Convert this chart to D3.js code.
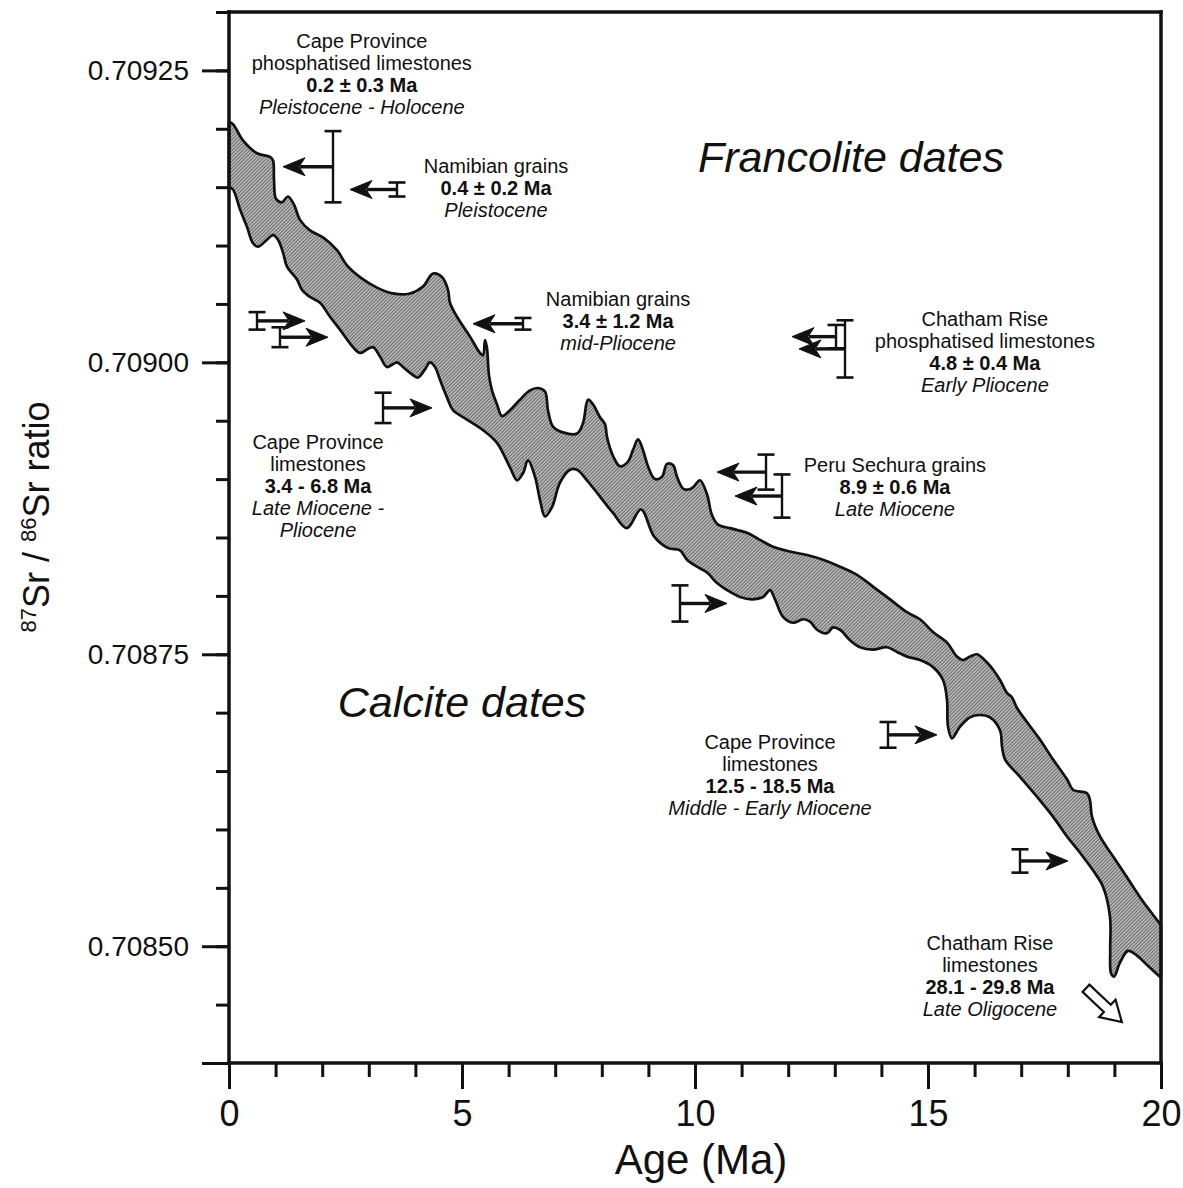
<!DOCTYPE html>
<html><head><meta charset="utf-8">
<script src="https://cdn.jsdelivr.net/npm/d3@7"></script>
<style>
body{margin:0;background:#fff;}
svg text{font-family:"Liberation Sans",Arial,Helvetica,sans-serif;fill:#111;}
</style></head><body>
<svg id="chart" width="1183" height="1188"></svg>
<script>
// ---------------- DATA ----------------
const xTickValues = [0, 5, 10, 15, 20];
const yTickValues = [0.70850, 0.70875, 0.70900, 0.70925];

// Upper (high-ratio) boundary of the seawater Sr curve band
const upperAge = [0.00,0.086,0.300,0.601,0.880,0.944,0.966,1.009,1.137,1.266,1.395,1.524,1.738,2.017,2.318,2.532,2.811,3.176,3.519,3.884,4.163,4.378,4.571,4.700,4.742,4.893,5.172,5.386,5.451,5.494,5.536,5.579,5.644,5.751,5.858,6.030,6.245,6.459,6.631,6.781,6.845,6.953,7.167,7.468,7.597,7.704,7.811,7.961,8.069,8.112,8.240,8.391,8.562,8.670,8.777,8.884,8.991,9.142,9.292,9.399,9.528,9.614,9.742,9.850,9.957,10.107,10.258,10.365,10.494,10.751,11.116,11.395,11.674,12.039,12.403,12.747,13.112,13.476,13.820,14.185,14.549,14.828,15.107,15.408,15.622,15.751,15.901,16.052,16.266,16.395,16.545,16.695,16.803,16.910,17.124,17.403,17.682,17.983,18.112,18.412,18.476,18.519,18.691,18.970,19.270,19.549,19.828,20.000];
const upperRatio = [0.709206,0.709204,0.709190,0.709179,0.709176,0.709173,0.709156,0.709140,0.709137,0.709142,0.709135,0.709122,0.709113,0.709107,0.709096,0.709083,0.709073,0.709064,0.709059,0.709059,0.709065,0.709076,0.709073,0.709062,0.709051,0.709039,0.709022,0.709008,0.709006,0.709019,0.709012,0.708989,0.708976,0.708964,0.708954,0.708959,0.708968,0.708976,0.708978,0.708975,0.708959,0.708945,0.708940,0.708939,0.708948,0.708968,0.708964,0.708953,0.708947,0.708936,0.708920,0.708911,0.708915,0.708925,0.708934,0.708925,0.708911,0.708900,0.708902,0.708913,0.708912,0.708902,0.708892,0.708891,0.708893,0.708899,0.708887,0.708869,0.708861,0.708858,0.708854,0.708848,0.708842,0.708838,0.708835,0.708831,0.708825,0.708818,0.708808,0.708797,0.708786,0.708780,0.708769,0.708760,0.708748,0.708745,0.708748,0.708750,0.708743,0.708737,0.708728,0.708717,0.708713,0.708704,0.708692,0.708677,0.708660,0.708643,0.708634,0.708631,0.708625,0.708611,0.708594,0.708577,0.708559,0.708542,0.708527,0.708518];

// Lower (low-ratio) boundary of the band
const lowerAge = [0.00,0.086,0.236,0.386,0.515,0.622,0.815,0.944,1.052,1.159,1.245,1.459,1.567,1.738,1.953,2.167,2.382,2.661,2.811,2.961,3.090,3.240,3.391,3.605,3.734,3.884,4.056,4.206,4.313,4.421,4.528,4.678,4.807,5.107,5.451,5.751,6.030,6.180,6.309,6.416,6.567,6.674,6.781,6.931,7.103,7.318,7.468,7.682,7.961,8.240,8.541,8.841,9.120,9.421,9.678,9.828,10.043,10.258,10.472,10.687,10.966,11.223,11.459,11.609,11.717,11.888,12.103,12.318,12.468,12.618,12.833,12.961,13.112,13.326,13.541,13.820,14.120,14.335,14.549,14.828,15.107,15.322,15.408,15.429,15.515,15.687,15.901,16.116,16.330,16.545,16.588,16.652,16.974,17.339,17.682,17.983,18.262,18.541,18.755,18.906,18.910,18.927,18.991,19.120,19.292,19.485,19.700,20.000];
const lowerRatio = [0.709150,0.709148,0.709131,0.709116,0.709102,0.709099,0.709105,0.709109,0.709105,0.709094,0.709082,0.709071,0.709062,0.709056,0.709051,0.709039,0.709028,0.709013,0.709008,0.709011,0.709013,0.709005,0.708996,0.709000,0.708996,0.708991,0.708987,0.708994,0.709000,0.708996,0.708985,0.708970,0.708959,0.708951,0.708942,0.708931,0.708910,0.708899,0.708905,0.708916,0.708902,0.708882,0.708868,0.708876,0.708897,0.708908,0.708908,0.708899,0.708885,0.708871,0.708858,0.708874,0.708851,0.708841,0.708839,0.708831,0.708825,0.708820,0.708811,0.708805,0.708799,0.708797,0.708799,0.708805,0.708797,0.708782,0.708777,0.708780,0.708778,0.708771,0.708768,0.708773,0.708771,0.708762,0.708756,0.708754,0.708756,0.708752,0.708748,0.708745,0.708739,0.708728,0.708711,0.708688,0.708678,0.708688,0.708696,0.708698,0.708696,0.708685,0.708671,0.708660,0.708645,0.708628,0.708611,0.708594,0.708580,0.708565,0.708551,0.708525,0.708497,0.708477,0.708474,0.708486,0.708496,0.708492,0.708484,0.708473];

// Francolite dates: error bar (ratio range) at an age, with arrow to the calcite-curve age
const markerAge    = [2.232, 3.605, 6.309, 13.026, 13.219, 0.601, 1.094, 3.305, 11.524, 11.867, 9.678, 14.142, 16.974];
const markerHi     = [0.709198,0.709154,0.709038,0.709032,0.709036,0.709043,0.709030,0.708974,0.708921,0.708904,0.708809,0.708692,0.708583];
const markerLo     = [0.709137,0.709142,0.709028,0.709012,0.708987,0.709028,0.709013,0.708948,0.708891,0.708867,0.708778,0.708670,0.708563];
const markerTipAge = [1.159, 2.597, 5.236, 12.082, 12.232, 1.631, 2.124, 4.356, 10.472, 10.858, 10.687, 15.193, 18.004];

// Off-scale hollow arrow (Chatham Rise limestones, Late Oligocene)
const oligoArrowAge   = [18.39, 19.16];
const oligoArrowRatio = [0.708464, 0.708435];

// Annotation texts (lines) and styles
const labelLines = [
  ["Cape Province","phosphatised limestones","0.2 \u00B1 0.3 Ma","Pleistocene - Holocene"],
  ["Namibian grains","0.4 \u00B1 0.2 Ma","Pleistocene"],
  ["Namibian grains","3.4 \u00B1 1.2 Ma","mid-Pliocene"],
  ["Chatham Rise","phosphatised limestones","4.8 \u00B1 0.4 Ma","Early Pliocene"],
  ["Cape Province","limestones","3.4 - 6.8 Ma","Late Miocene -","Pliocene"],
  ["Peru Sechura grains","8.9 \u00B1 0.6 Ma","Late Miocene"],
  ["Cape Province","limestones","12.5 - 18.5 Ma","Middle - Early Miocene"],
  ["Chatham Rise","limestones","28.1 - 29.8 Ma","Late Oligocene"]
];
const labelStyles = [
  ["n","n","b","i"],["n","b","i"],["n","b","i"],["n","n","b","i"],
  ["n","n","b","i","i"],["n","b","i"],["n","n","b","i"],["n","n","b","i"]
];
const labelAge   = [2.85, 5.73, 8.35, 16.22, 1.91, 14.29, 11.61, 16.33];
const labelRatio = [0.709275, 0.709168, 0.709054, 0.709037, 0.708932, 0.708912, 0.708675, 0.708503];

// ---------------- CHART ----------------
const svg = d3.select('#chart');
const x = d3.scaleLinear().domain([0, 20]).range([229, 1161]);
const y = d3.scaleLinear().domain([0.7084, 0.7093]).range([1063, 12]);

const defs = svg.append('defs');
const pat = defs.append('pattern').attr('id','hatch').attr('patternUnits','userSpaceOnUse')
  .attr('width',2.5).attr('height',2.5).attr('patternTransform','rotate(45)');
pat.append('rect').attr('width',2.5).attr('height',2.5).attr('fill','#bdbdbd');
pat.append('line').attr('x1',0.5).attr('y1',0).attr('x2',0.5).attr('y2',2.5).attr('stroke','#666').attr('stroke-width',1);

// band
const upperPts = upperAge.map((a,i)=>[x(a), y(upperRatio[i])]);
const lowerPts = lowerAge.map((a,i)=>[x(a), y(lowerRatio[i])]).reverse();
const ln = d3.line().curve(d3.curveCatmullRom.alpha(0.5));
const bandD = ln(upperPts) + ln(lowerPts).replace(/^M/, 'L') + 'Z';
svg.append('path').attr('d', bandD).attr('fill','url(#hatch)')
  .attr('stroke','#111').attr('stroke-width',2.7).attr('stroke-linejoin','round');

// axes
function styleAxis(g){ g.select('.domain').remove(); g.selectAll('.tick line').attr('stroke','#111').attr('stroke-width',3); }
const yMinorVals = d3.range(0, 19).map(i => 0.7084 + i*0.00005);
svg.append('g').attr('transform','translate(229,0)')
  .call(d3.axisLeft(y).tickValues(yMinorVals).tickSize(13).tickFormat('')).call(styleAxis);
svg.append('g').attr('transform','translate(229,0)')
  .call(d3.axisLeft(y).tickValues([0.7084]).tickSize(27).tickFormat('')).call(styleAxis);
const gy = svg.append('g').attr('transform','translate(229,0)')
  .call(d3.axisLeft(y).tickValues(yTickValues).tickSize(27).tickPadding(13).tickFormat(d3.format('.5f')));
styleAxis(gy);
gy.selectAll('text').attr('font-size',28).attr('fill','#111').attr('font-family','"Liberation Sans",Arial,sans-serif');

const xMinorVals = d3.range(0, 21);
svg.append('g').attr('transform','translate(0,1063)')
  .call(d3.axisBottom(x).tickValues(xMinorVals).tickSize(14).tickFormat('')).call(styleAxis);
const gx = svg.append('g').attr('transform','translate(0,1063)')
  .call(d3.axisBottom(x).tickValues(xTickValues).tickSize(26).tickPadding(11).tickFormat(d3.format('d')));
styleAxis(gx);
gx.selectAll('text').attr('font-size',36).attr('fill','#111').attr('font-family','"Liberation Sans",Arial,sans-serif');

// frame
const frame = svg.append('g').attr('stroke','#111').attr('stroke-width',3.5).attr('stroke-linecap','square');
frame.append('line').attr('x1',x(0)).attr('x2',x(20)).attr('y1',y(0.7093)).attr('y2',y(0.7093));
frame.append('line').attr('x1',x(0)).attr('x2',x(20)).attr('y1',y(0.7084)).attr('y2',y(0.7084));
frame.append('line').attr('x1',x(0)).attr('x2',x(0)).attr('y1',y(0.7093)).attr('y2',y(0.7084));
frame.append('line').attr('x1',x(20)).attr('x2',x(20)).attr('y1',y(0.7093)).attr('y2',y(0.7084));

// markers
const mk = svg.append('g');
function arrow(g, x0, y0, x1, y1){
  const dx = x1-x0, dy = y1-y0, L = Math.hypot(dx,dy), ux = dx/L, uy = dy/L, nx = -uy, ny = ux;
  const hl = 22, hw = 9;
  g.append('line').attr('x1',x0).attr('y1',y0).attr('x2',x1-ux*(hl-5)).attr('y2',y1-uy*(hl-5))
    .attr('stroke','#111').attr('stroke-width',3.4);
  const bx = x1-ux*hl, by = y1-uy*hl;
  g.append('path').attr('d', `M${x1},${y1}L${bx+nx*hw},${by+ny*hw}L${x1-ux*(hl-6)},${y1-uy*(hl-6)}L${bx-nx*hw},${by-ny*hw}Z`)
    .attr('fill','#111').attr('stroke','#111').attr('stroke-width',1).attr('stroke-linejoin','round');
}
markerAge.forEach((a,i)=>{
  const cx = x(a), yh = y(markerHi[i]), yl = y(markerLo[i]), ym = (yh+yl)/2, cw = 8.5;
  const g = mk.append('g');
  g.append('line').attr('x1',cx).attr('x2',cx).attr('y1',yh).attr('y2',yl).attr('stroke','#111').attr('stroke-width',2.4);
  g.append('line').attr('x1',cx-cw).attr('x2',cx+cw).attr('y1',yh).attr('y2',yh).attr('stroke','#111').attr('stroke-width',2.6);
  g.append('line').attr('x1',cx-cw).attr('x2',cx+cw).attr('y1',yl).attr('y2',yl).attr('stroke','#111').attr('stroke-width',2.6);
  arrow(g, cx, ym, x(markerTipAge[i]), ym);
});

// hollow arrow
(function(){
  const x0 = x(oligoArrowAge[0]), y0 = y(oligoArrowRatio[0]), x1 = x(oligoArrowAge[1]), y1 = y(oligoArrowRatio[1]);
  const dx = x1-x0, dy = y1-y0, L = Math.hypot(dx,dy), ux = dx/L, uy = dy/L, nx = -uy, ny = ux;
  const sw = 5, hw = 12, hl = 20;
  const P = (t, s) => [x0 + ux*t + nx*s, y0 + uy*t + ny*s];
  const pts = [P(0,-sw), P(L-hl,-sw), P(L-hl,-hw), P(L,0), P(L-hl,hw), P(L-hl,sw), P(0,sw)];
  svg.append('path').attr('d', 'M' + pts.map(p=>p.join(',')).join('L') + 'Z')
    .attr('fill','#fff').attr('stroke','#111').attr('stroke-width',2.2).attr('stroke-linejoin','miter');
})();

// annotation labels
const lab = svg.append('g');
labelLines.forEach((lines,i)=>{
  const cx = x(labelAge[i]), cy = y(labelRatio[i]);
  lines.forEach((t,j)=>{
    const st = labelStyles[i][j];
    lab.append('text').attr('x',cx).attr('y',cy + 7 + j*22).attr('text-anchor','middle')
      .attr('font-size',20).attr('font-weight', st==='b' ? 'bold' : 'normal')
      .attr('font-style', st==='i' ? 'italic' : 'normal').text(t);
  });
});

// big region labels
svg.append('text').attr('x',851).attr('y',172).attr('text-anchor','middle').attr('font-size',43)
  .attr('font-style','italic').text('Francolite dates');
svg.append('text').attr('x',462).attr('y',717).attr('text-anchor','middle').attr('font-size',43)
  .attr('font-style','italic').text('Calcite dates');

// axis titles
svg.append('text').attr('x',701).attr('y',1174).attr('text-anchor','middle').attr('font-size',42).text('Age (Ma)');
const yt = svg.append('text').attr('transform','translate(49,517) rotate(-90)').attr('text-anchor','middle').attr('font-size',36);
yt.append('tspan').attr('font-size',22).attr('dy',-13).text('87');
yt.append('tspan').attr('dy',13).text('Sr / ');
yt.append('tspan').attr('font-size',22).attr('dy',-13).text('86');
yt.append('tspan').attr('dy',13).text('Sr ratio');
</script>
</body></html>
